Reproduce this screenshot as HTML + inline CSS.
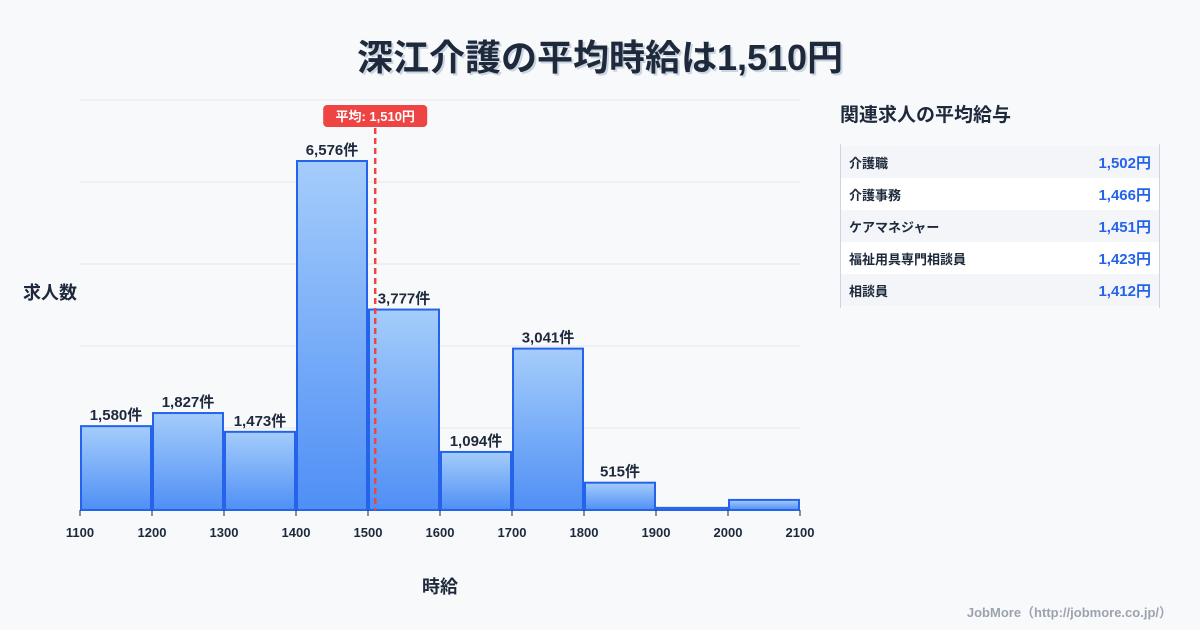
<!DOCTYPE html>
<html><head><meta charset="utf-8">
<style>
body{margin:0;width:1200px;height:630px;background:#f8f9fb;font-family:"Liberation Sans","Noto Sans CJK JP",sans-serif;overflow:hidden;position:relative;color:#1e293b}
.title{position:absolute;top:29px;left:0;width:1200px;text-align:center;font-size:36px;font-weight:bold;color:#1e293b;text-shadow:2px 2px 0 #cbd5e1}
.side{position:absolute;left:840px;top:100px;width:320px}
.side h3{margin:0;font-size:19px;font-weight:bold;height:44px}
.tbl{border-left:1px solid #cbd5e1;border-right:1px solid #cbd5e1;padding:2px 0}
.row{height:32px;display:flex;justify-content:space-between;align-items:center;padding:0 8px 0 8px;font-size:13px;font-weight:bold}
.row:nth-child(odd){background:#f3f5f8}.row:nth-child(even){background:#fff}
.row span:last-child{color:#2563eb;font-size:15px}
.foot{position:absolute;right:28px;top:602px;font-size:13px;color:#9ca3af;font-weight:bold}
</style></head><body>
<div class="title">深江介護の平均時給は1,510円</div>
<svg id="chart" width="1200" height="630" style="position:absolute;left:0;top:0"></svg>
<div class="side">
<h3>関連求人の平均給与</h3>
<div class="tbl">
<div class="row"><span>介護職</span><span>1,502円</span></div>
<div class="row"><span>介護事務</span><span>1,466円</span></div>
<div class="row"><span>ケアマネジャー</span><span>1,451円</span></div>
<div class="row"><span>福祉用具専門相談員</span><span>1,423円</span></div>
<div class="row"><span>相談員</span><span>1,412円</span></div>
</div></div>
<div class="foot">JobMore（http://jobmore.co.jp/）</div>
<script>
const binStarts=[1100,1200,1300,1400,1500,1600,1700,1800,1900,2000];
const counts=[1580,1827,1473,6576,3777,1094,3041,515,40,190];
const tickLabels=[1100,1200,1300,1400,1500,1600,1700,1800,1900,2000,2100];
const avg=1510;
const svg=document.getElementById('chart');const NS='http://www.w3.org/2000/svg';
const x=v=>80+(v-1100)*0.72;
const y=v=>510-v*(349/6576);
function mk(t,a,p){const e=document.createElementNS(NS,t);for(const k in a)e.setAttribute(k,a[k]);(p||svg).appendChild(e);return e;}
const defs=mk('defs',{});
const g=mk('linearGradient',{id:'bg',x1:0,y1:0,x2:0,y2:1},defs);
mk('stop',{offset:0,'stop-color':'#a5cdfb'},g);mk('stop',{offset:1,'stop-color':'#4f8ff5'},g);
for(let i=0;i<6;i++){const l=mk('line',{x1:80,x2:800,y1:100+i*82,y2:100+i*82,stroke:'#e5e7eb'});

}
binStarts.forEach((b,i)=>{
const r=mk('rect',{x:x(b)+1,y:y(counts[i]),width:70,height:Math.max(510-y(counts[i]),2),fill:'url(#bg)',stroke:'#2563eb','stroke-width':2});


if(counts[i]>300){const t=mk('text',{x:x(b)+36,y:y(counts[i])-6,'text-anchor':'middle','font-size':15,'font-weight':'bold',fill:'#1e293b'});t.textContent=counts[i].toLocaleString('en-US')+'件';

}
});
tickLabels.forEach(v=>{mk('line',{x1:x(v),x2:x(v),y1:510,y2:516,stroke:'#1e293b'});
const t=mk('text',{x:x(v),y:537,'text-anchor':'middle','font-size':13,'font-weight':'bold',fill:'#1e293b'});t.textContent=v;

});
const al=mk('line',{x1:x(avg),x2:x(avg),y1:128,y2:510,stroke:'#ef4444','stroke-width':2.5,'stroke-dasharray':'6,4'});


mk('rect',{x:x(avg)-52,y:105,width:104,height:22,rx:4,fill:'#ef4444'});
const at=mk('text',{x:x(avg),y:121,'text-anchor':'middle','font-size':13,'font-weight':'bold',fill:'#fff'});at.textContent='平均: 1,510円';


const yt=mk('text',{x:50,y:299,'text-anchor':'middle','font-size':18,'font-weight':'bold',fill:'#1e293b'});yt.textContent='求人数';


const xt=mk('text',{x:440,y:593,'text-anchor':'middle','font-size':18,'font-weight':'bold',fill:'#1e293b'});xt.textContent='時給';


</script>
</body></html>
